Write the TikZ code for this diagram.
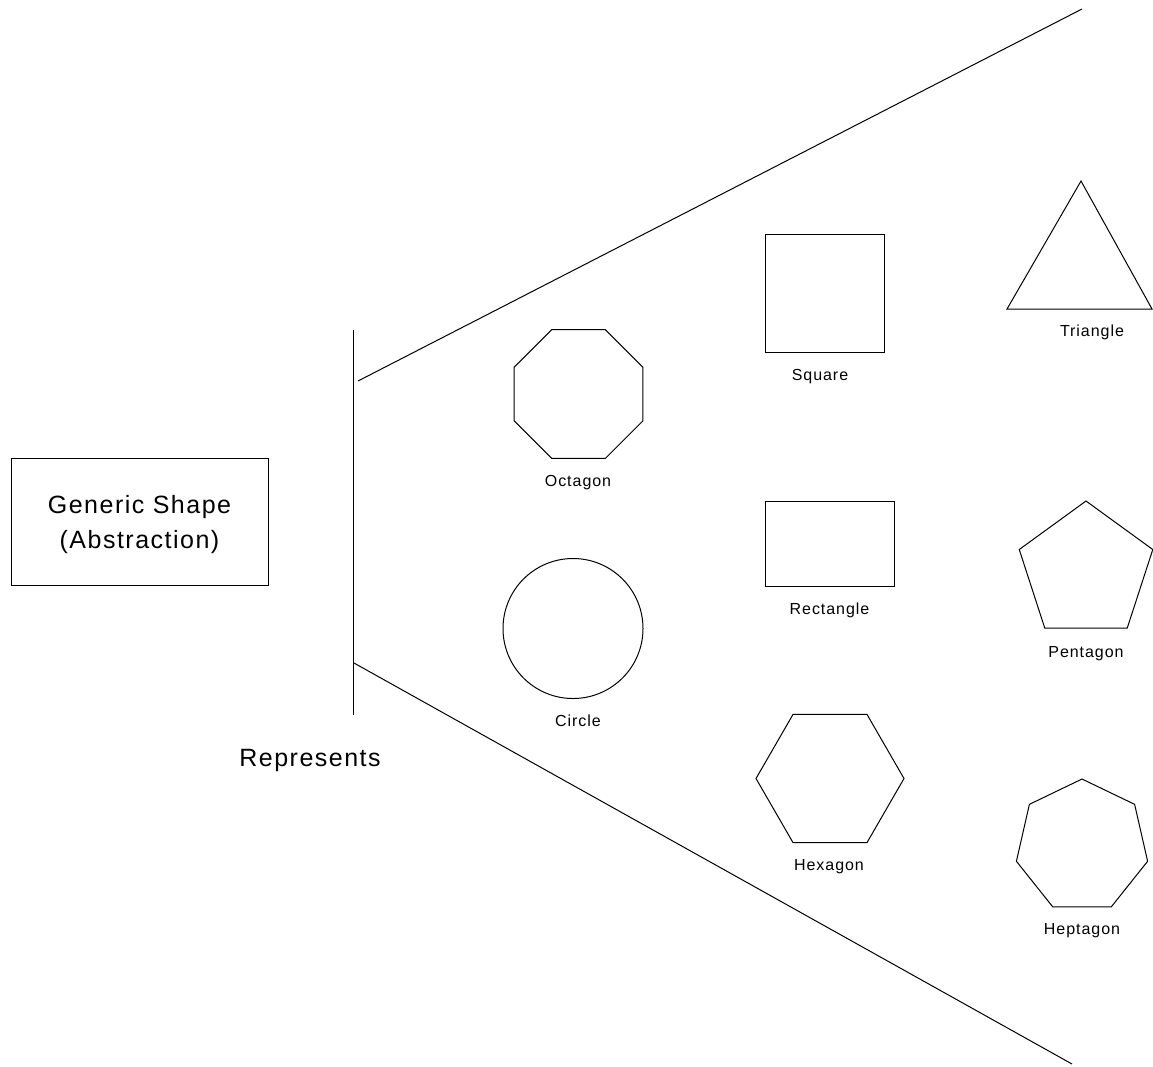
\documentclass[tikz,border=0pt]{standalone}
\usepackage{fontspec}
\newfontfamily\lblfont[LetterSpace=6]{Liberation Sans}
\begin{document}
\begin{tikzpicture}[x=1pt,y=-1pt,
  shp/.style={draw=black,line width=1pt,line join=miter},
  lbl/.style={font=\lblfont\fontsize{16}{19}\selectfont,anchor=base,inner sep=0pt},
  biglbl/.style={font=\lblfont\fontsize{25}{35}\selectfont,inner sep=0pt}]
\useasboundingbox (0,0) rectangle (1153,1066);
% abstraction box
\node[shp,minimum width=257pt,minimum height=127pt,
  label={[biglbl,align=center,yshift=-3.5pt]center:Generic Shape\\(Abstraction)}] (gen) at (139.5,521.5) {};
% bar and fan lines
\coordinate (vt) at (353.5,330);
\coordinate (vb) at (353.5,715);
\coordinate (u0) at (358,381);
\coordinate (u1) at (1082,9);
\coordinate (l0) at (354,663);
\coordinate (l1) at (1072,1064);
\draw[shp] (vt) -- (vb);
\draw[shp] (u0) -- (u1);
\draw[shp] (l0) -- (l1);
\node[biglbl,anchor=base] (rep) at (310,766) {Represents};
% octagon
\coordinate (oct) at (578.5,394);
\draw[shp] (oct) +(22.5:69.8) \foreach \k in {1,...,7}{ -- +({22.5+45*\k}:69.8)} -- cycle;
\node[lbl] (octl) at (578,486) {Octagon};
% circle
\coordinate (cir) at (573,628.5);
\draw[shp] (cir) circle (70);
\node[lbl] (cirl) at (578,726) {Circle};
% square
\draw[shp] (765,234) rectangle (884,352);
\node[lbl] (sqrl) at (820,380) {Square};
% rectangle
\draw[shp] (765,501) rectangle (894,586);
\node[lbl] (rectl) at (829.5,614) {Rectangle};
% hexagon
\coordinate (hex) at (830,778.5);
\draw[shp] (hex) +(0:74) \foreach \k in {1,...,5}{ -- +({60*\k}:74)} -- cycle;
\node[lbl] (hexl) at (829,870) {Hexagon};
% triangle
\draw[shp] (1081,181) -- (1152,309) -- (1007,309) -- cycle;
\node[lbl] (tril) at (1092,336) {Triangle};
% pentagon
\coordinate (pen) at (1086,571.2);
\draw[shp] (pen) +(-90:70.2) \foreach \k in {1,...,4}{ -- +({-90+72*\k}:70.2)} -- cycle;
\node[lbl] (penl) at (1086,657) {Pentagon};
% heptagon
\coordinate (hep) at (1082,846.3);
\draw[shp] (hep) +(-90:67.3) \foreach \k in {1,...,6}{ -- +({-90+360*\k/7}:67.3)} -- cycle;
\node[lbl] (hepl) at (1082,934) {Heptagon};
\end{tikzpicture}
\end{document}
